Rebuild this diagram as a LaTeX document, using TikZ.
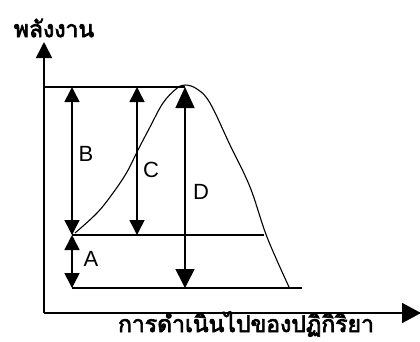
\documentclass[tikz,border=0pt]{standalone}
\usepackage{fontspec}
\setmainfont{Liberation Sans}
\newfontfamily\thaifont[Script=Thai,FakeBold=3]{Loma}
\usetikzlibrary{arrows.meta}
\begin{document}
\begin{tikzpicture}[x=1pt,y=-1pt,
  line/.style={line width=1.6pt},
  tipSS/.style={{Triangle[width=15pt,length=15pt]}-{Triangle[width=15pt,length=15pt]}},
  tipDD/.style={{Triangle[width=19pt,length=19pt]}-{Triangle[width=19pt,length=21pt]}},
  lbl/.style={font=\fontsize{22}{22}\selectfont, inner sep=0pt},
  thai/.style={font=\thaifont\fontsize{23}{23}\selectfont, inner sep=0pt}]
\useasboundingbox (0,0) rectangle (420,341);
% axes
\coordinate (O) at (44,313);
\coordinate (Ytop) at (44,42);
\coordinate (Xend) at (421,313);
\draw[line,-{Triangle[width=16pt,length=16pt]}] (O) -- (Ytop);
\draw[line,-{Triangle[width=20pt,length=19pt]}] (O) -- (Xend);
% levels
\coordinate (TL) at (45,87);
\coordinate (peak) at (185,87);
\coordinate (ML) at (72,235);
\coordinate (MR) at (264,235);
\coordinate (BL) at (72,288);
\coordinate (BR) at (302,288);
\draw[line] (TL) -- (peak);
\draw[line] (ML) -- (MR);
\draw[line] (BL) -- (BR);
% arrows
\coordinate (Btop) at (72,87);
\coordinate (Ctop) at (137,87);
\coordinate (Cbot) at (137,235);
\coordinate (Dbot) at (185,288);
\draw[line,tipSS] (ML) -- (Btop);
\draw[line,tipSS] (Cbot) -- (Ctop);
\draw[line,tipDD] (Dbot) -- (peak);
\draw[line,tipSS] (BL) -- (ML);
% curve
\draw[line width=1.1pt] plot[smooth,tension=0.6] coordinates {(75,233) (97,213) (113,193) (127,172) (138,150) (150,127) (163,103) (176,89) (185,85) (197,89) (210,103) (230,145) (250,187) (267,237) (289,287)};
% labels
\node[lbl] (B) at (86,154) {B};
\node[lbl] (C) at (151,170) {C};
\node[lbl] (D) at (201,192) {D};
\node[lbl] (A) at (91,259) {A};
\node[thai] (ylab) at (54,28) {พลังงาน};
\node[thai] (xlab) at (246,324) {การดำเนินไปของปฏิกิริยา};
\end{tikzpicture}
\end{document}
